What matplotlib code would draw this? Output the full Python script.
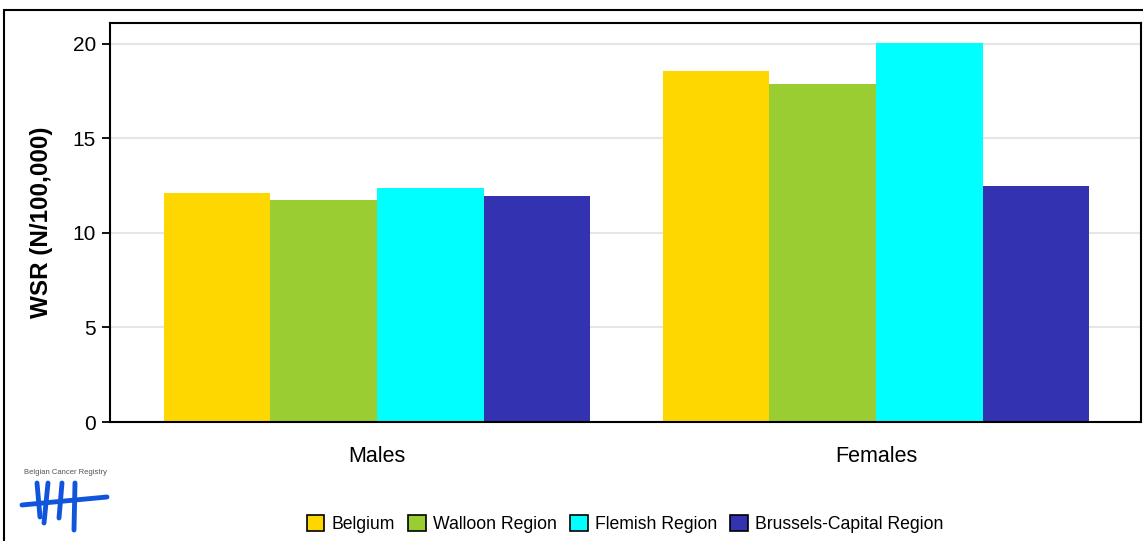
import numpy as np
import matplotlib
matplotlib.use('Agg')
import matplotlib.pyplot as plt
from matplotlib.patches import Rectangle, Patch
from matplotlib.lines import Line2D

plt.rcParams['font.family'] = ['Liberation Sans', 'DejaVu Sans']

groups = ['Males', 'Females']
regions = ['Belgium', 'Walloon Region', 'Flemish Region', 'Brussels-Capital Region']
colors = ['#FFD700', '#9ACD32', '#00FFFF', '#3333B2']
values = {
    'Belgium': [12.12, 18.57],
    'Walloon Region': [11.75, 17.88],
    'Flemish Region': [12.38, 20.05],
    'Brussels-Capital Region': [11.95, 12.49],
}
yticks = [0, 5, 10, 15, 20]

W, H = 1143, 541
fig = plt.figure(figsize=(W/100, H/100), dpi=100)
ax = fig.add_axes([110/W, 1-422/H, (1141-110)/W, (422-23)/H])

x = np.arange(len(groups))
bw = 0.2135
for i, r in enumerate(regions):
    ax.bar(x + (i-1.5)*bw, values[r], bw, color=colors[i], linewidth=0, zorder=2)

ax.set_xlim(-0.535, 1.531)
ax.set_ylim(0, 21.11)
ax.set_yticks(yticks)
ax.set_xticks(x)
ax.set_xticklabels(groups)
ax.tick_params(axis='x', length=0, labelsize=15.5, pad=17)
ax.tick_params(axis='y', length=6, width=1.3, labelsize=15, direction='out', pad=4)
ax.yaxis.grid(True, color='#e6e6e6', linewidth=1.5, zorder=0)
ax.set_axisbelow(True)
for s in ax.spines.values():
    s.set_linewidth(1.5)
ax.set_ylabel('WSR (N/100,000)', fontsize=17.5, fontweight='bold', labelpad=14)

# outer frame
fig.patches.append(Rectangle((4/W, -0.01), 1.02, 1-10/H+0.01, transform=fig.transFigure,
                             fill=False, edgecolor='black', linewidth=1.5))

handles = [Patch(facecolor=c, edgecolor='black', linewidth=1.2) for c in colors]
fig.legend(handles, regions, loc='center', bbox_to_anchor=(625/W, 1-524/H), ncol=4,
           frameon=False, fontsize=12.7, handlelength=1.0, handleheight=1.0,
           handletextpad=0.4, columnspacing=0.75)

# logo
fig.text(24/W, 1-472/H, 'Belgian Cancer Registry', fontsize=5.5, color='#555555', va='center')
blue = '#1155DD'
lw = 3.5
fig.add_artist(Line2D([22/W, 107/W], [1-505/H, 1-497/H], color=blue, lw=lw, solid_capstyle='round'))
for x0, y0, x1, y1 in [(37, 483, 40, 517), (48, 483, 44, 523), (62, 483, 59, 518), (75, 483, 74, 530)]:
    fig.add_artist(Line2D([x0/W, x1/W], [1-y0/H, 1-y1/H], color=blue, lw=lw, solid_capstyle='round'))

fig.savefig('out.png', dpi=100)
